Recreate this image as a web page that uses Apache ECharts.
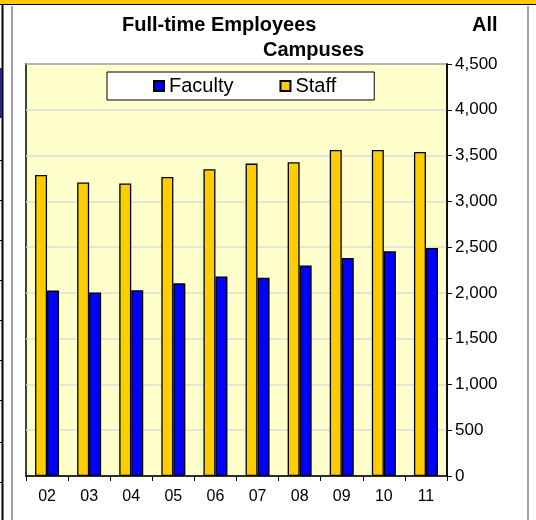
<!DOCTYPE html>
<html>
<head>
<meta charset="utf-8">
<script src="https://cdn.jsdelivr.net/npm/echarts/dist/echarts.min.js"></script>
<style>
  html, body { margin: 0; padding: 0; background: #fff; }
  #chart { width: 536px; height: 520px; }
</style>
</head>
<body>
<div id="chart"></div>
<script>
// data
const years = ['02', '03', '04', '05', '06', '07', '08', '09', '10', '11']
const faculty = [2025, 2005, 2029, 2105, 2180, 2165, 2300, 2382, 2455, 2490]
const staff = [3287, 3205, 3195, 3265, 3350, 3412, 3427, 3560, 3560, 3540]
const yTicks = { min: 0, max: 4500, interval: 500 }

const FONT = 'Liberation Sans, Arial, sans-serif'

// page frame around the chart (not data)
const leftTicks = [160, 200, 240, 280, 320, 360, 400, 442, 482]
const frame = [
  { type: 'rect', shape: { x: 0, y: 0, width: 536, height: 4 }, style: { fill: '#FFCC00' } },
  { type: 'line', shape: { x1: 0, y1: 4.5, x2: 536, y2: 4.5 }, style: { stroke: '#000', lineWidth: 1 } },
  { type: 'line', shape: { x1: 2.5, y1: 4, x2: 2.5, y2: 520 }, style: { stroke: '#000', lineWidth: 2 } },
  { type: 'rect', shape: { x: 0, y: 68, width: 2, height: 50 }, style: { fill: '#22229A' } },
  { type: 'line', shape: { x1: 12, y1: 6, x2: 12, y2: 520 }, style: { stroke: '#808080', lineWidth: 1.5 } },
  { type: 'line', shape: { x1: 528, y1: 6, x2: 528, y2: 520 }, style: { stroke: '#808080', lineWidth: 1.5 } }
].concat(leftTicks.map(y => ({
  type: 'line', shape: { x1: 0, y1: y + 0.5, x2: 2, y2: y + 0.5 }, style: { stroke: '#000', lineWidth: 1 }
})))

const titleStyle = { fontFamily: FONT, fontSize: 20, fontWeight: 'bold', color: '#000' }

const option = {
  animation: false,
  backgroundColor: '#fff',
  textStyle: { fontFamily: FONT },
  title: [
    { text: 'Full-time Employees', left: 122, top: 15, padding: 0, textStyle: titleStyle },
    { text: 'All', left: 472, top: 15, padding: 0, textStyle: titleStyle },
    { text: 'Campuses', left: 263, top: 40, padding: 0, textStyle: titleStyle }
  ],
  legend: {
    data: ['Faculty', 'Staff'],
    left: 107,
    top: 72,
    padding: [4, 38, 4, 46],
    itemWidth: 10,
    itemHeight: 10,
    itemGap: 46,
    icon: 'rect',
    backgroundColor: '#fff',
    borderColor: '#000',
    borderWidth: 1,
    textStyle: { fontFamily: FONT, fontSize: 20, color: '#000' }
  },
  grid: {
    left: 26,
    top: 64,
    right: 89,
    bottom: 44,
    show: true,
    backgroundColor: '#FFFFCC',
    borderColor: '#000',
    borderWidth: 1.5
  },
  xAxis: {
    type: 'category',
    data: years,
    axisLine: { lineStyle: { color: '#000', width: 1.5 } },
    axisTick: { show: true, length: 5, lineStyle: { color: '#000' } },
    axisLabel: { fontFamily: FONT, fontSize: 16, color: '#000', margin: 13 }
  },
  yAxis: {
    type: 'value',
    position: 'right',
    min: yTicks.min,
    max: yTicks.max,
    interval: yTicks.interval,
    axisLine: { show: true, lineStyle: { color: '#000', width: 1.5 } },
    axisTick: { show: true, length: 5, lineStyle: { color: '#000' } },
    axisLabel: {
      fontFamily: FONT,
      fontSize: 17,
      color: '#000',
      margin: 8,
      formatter: v => v.toLocaleString('en-US')
    },
    splitLine: { show: true, lineStyle: { color: '#DDDDDD', width: 1.5 } }
  },
  series: [
    {
      name: 'Staff',
      type: 'bar',
      data: staff,
      barWidth: 12,
      barGap: '0%',
      itemStyle: { color: '#FFCC00', borderColor: '#000', borderWidth: 1.3 }
    },
    {
      name: 'Faculty',
      type: 'bar',
      data: faculty,
      barWidth: 12,
      barGap: '0%',
      itemStyle: { color: '#0000FF', borderColor: '#000', borderWidth: 1.3 }
    }
  ],
  graphic: frame
}

const chart = echarts.init(document.getElementById('chart'))
chart.setOption(option)
</script>
</body>
</html>
